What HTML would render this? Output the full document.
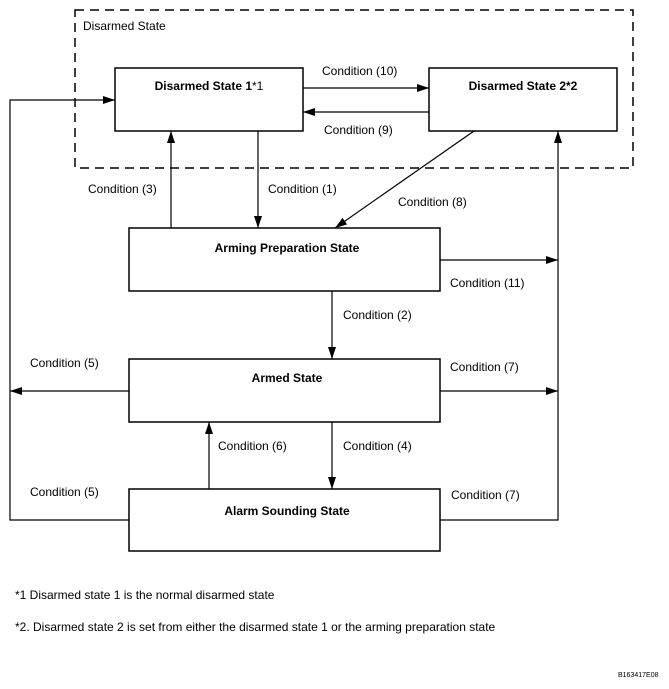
<!DOCTYPE html>
<html><head><style>body{margin:0;background:#fff}</style></head><body>
<svg width="669" height="684" xmlns="http://www.w3.org/2000/svg" font-family="Liberation Sans, Arial, sans-serif" font-size="12" fill="#000">
<defs><marker id="a" markerWidth="12" markerHeight="8" refX="12" refY="4" orient="auto" markerUnits="userSpaceOnUse"><path d="M0,0 L12,4 L0,8z" fill="#000"/></marker></defs>
<rect x="75" y="10" width="558" height="158" fill="none" stroke="#000" stroke-width="1.5" stroke-dasharray="9,6"/>
<text x="83" y="30">Disarmed State</text>
<g fill="#fff" stroke="#000" stroke-width="1.5">
<rect x="115" y="68" width="188" height="63"/>
<rect x="429" y="68" width="188" height="63"/>
<rect x="129" y="228" width="311" height="63"/>
<rect x="129" y="359" width="311" height="63"/>
<rect x="129" y="489" width="311" height="62"/>
</g>
<g font-weight="bold" text-anchor="middle">
<text x="209" y="90">Disarmed State 1<tspan font-weight="normal">*1</tspan></text>
<text x="523" y="90">Disarmed State 2*2</text>
<text x="287" y="252">Arming Preparation State</text>
<text x="287" y="382">Armed State</text>
<text x="287" y="515">Alarm Sounding State</text>
</g>
<g stroke="#000" stroke-width="1.2" fill="none" marker-end="url(#a)">
<line x1="303" y1="88" x2="429" y2="88"/>
<line x1="429" y1="112" x2="303" y2="112"/>
<line x1="171" y1="228" x2="171" y2="131"/>
<line x1="258" y1="131" x2="258" y2="228"/>
<line x1="474" y1="131" x2="335" y2="228"/>
<line x1="440" y1="260" x2="558" y2="260"/>
<line x1="332" y1="291" x2="332" y2="359"/>
<line x1="129" y1="391" x2="10" y2="391"/>
<line x1="440" y1="391" x2="558" y2="391"/>
<line x1="209" y1="489" x2="209" y2="422"/>
<line x1="332" y1="422" x2="332" y2="489"/>
<polyline points="129,520 10,520 10,100 115,100"/>
<polyline points="440,520 558,520 558,131"/>
</g>
<text x="322" y="75">Condition (10)</text>
<text x="324" y="134">Condition (9)</text>
<text x="88" y="193">Condition (3)</text>
<text x="268" y="193">Condition (1)</text>
<text x="398" y="206">Condition (8)</text>
<text x="450" y="287">Condition (11)</text>
<text x="343" y="319">Condition (2)</text>
<text x="30" y="367">Condition (5)</text>
<text x="450" y="371">Condition (7)</text>
<text x="218" y="450">Condition (6)</text>
<text x="343" y="450">Condition (4)</text>
<text x="30" y="496">Condition (5)</text>
<text x="451" y="499">Condition (7)</text>
<text x="15" y="599">*1  Disarmed state 1 is the normal disarmed state</text>
<text x="15" y="631">*2. Disarmed state 2 is set from either the disarmed state 1 or the arming preparation state</text>
<text x="618" y="677" font-size="7">B163417E08</text>
</svg>
</body></html>
